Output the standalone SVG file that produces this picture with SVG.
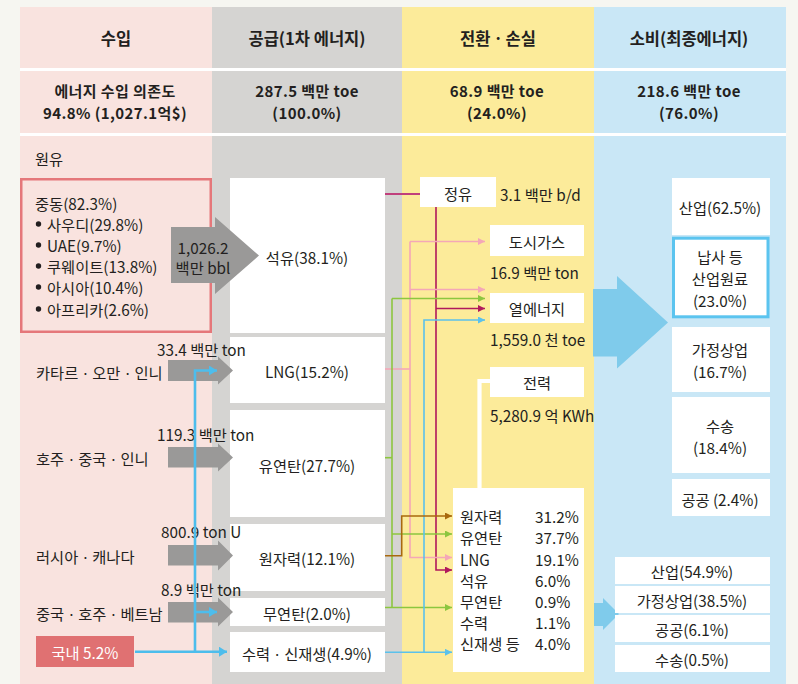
<svg xmlns="http://www.w3.org/2000/svg" width="798" height="684" viewBox="0 0 798 684">
<defs>
<style>
text { font-family: "Noto Sans CJK KR", "Noto Sans", sans-serif; font-size: 15.3px; fill: #231f20; dominant-baseline: central; }
.h { font-size: 16.5px; font-weight: bold; text-anchor: middle; }
.s { font-size: 15px; font-weight: bold; text-anchor: middle; letter-spacing: 0.4px; }
.m { text-anchor: middle; }
.box { fill: #ffffff; }
.ga { fill: #9a9998; }
.ln { fill: none; stroke-width: 1.6; }
.pk { stroke: #f4a7b7; }
.mg { stroke: #b01a5c; }
.gr { stroke: #8cc63f; }
.bl { stroke: #5bc1eb; }
.br { stroke: #a8690f; }
.ib { fill: none; stroke: #4dbdec; stroke-width: 2.6; }
</style>
<marker id="aPk" viewBox="0 0 8 8" refX="8" refY="4" markerWidth="7" markerHeight="7" markerUnits="userSpaceOnUse" orient="auto"><path d="M0,0 L8,4 L0,8 z" fill="#f4a7b7"/></marker>
<marker id="aMg" viewBox="0 0 8 8" refX="8" refY="4" markerWidth="7" markerHeight="7" markerUnits="userSpaceOnUse" orient="auto"><path d="M0,0 L8,4 L0,8 z" fill="#b01a5c"/></marker>
<marker id="aGr" viewBox="0 0 8 8" refX="8" refY="4" markerWidth="7" markerHeight="7" markerUnits="userSpaceOnUse" orient="auto"><path d="M0,0 L8,4 L0,8 z" fill="#8cc63f"/></marker>
<marker id="aBl" viewBox="0 0 8 8" refX="8" refY="4" markerWidth="7" markerHeight="7" markerUnits="userSpaceOnUse" orient="auto"><path d="M0,0 L8,4 L0,8 z" fill="#5bc1eb"/></marker>
<marker id="aBr" viewBox="0 0 8 8" refX="8" refY="4" markerWidth="7" markerHeight="7" markerUnits="userSpaceOnUse" orient="auto"><path d="M0,0 L8,4 L0,8 z" fill="#a8690f"/></marker>
<marker id="aIb" viewBox="0 0 8 10" refX="8" refY="5" markerWidth="8" markerHeight="10" markerUnits="userSpaceOnUse" orient="auto"><path d="M0,0 L8,5 L0,10 z" fill="#4dbdec"/></marker>
</defs>

<g id="background">
<rect x="0" y="0" width="798" height="684" fill="#f6f6f1"/>
<rect x="20" y="7" width="192" height="677" fill="#f9e3df"/>
<rect x="212" y="7" width="190" height="677" fill="#d5d4d2"/>
<rect x="402" y="7" width="192" height="677" fill="#fceb9a"/>
<rect x="594" y="7" width="192" height="677" fill="#c9e7f6"/>
<rect x="20" y="68" width="766" height="3" fill="#ffffff"/>
<rect x="20" y="133" width="766" height="3" fill="#ffffff"/>
</g>

<g id="headers">
<text class="h" x="116" y="38">수입</text>
<text class="h" x="307" y="38">공급(1차 에너지)</text>
<text class="h" x="498" y="38">전환ㆍ손실</text>
<text class="h" x="689" y="38">소비(최종에너지)</text>
<text class="s" x="115" y="90.5">에너지 수입 의존도</text>
<text class="s" x="115" y="112.5">94.8% (1,027.1억$)</text>
<text class="s" x="307" y="90.5">287.5 백만 toe</text>
<text class="s" x="307" y="112.5">(100.0%)</text>
<text class="s" x="497" y="90.5">68.9 백만 toe</text>
<text class="s" x="497" y="112.5">(24.0%)</text>
<text class="s" x="689" y="90.5">218.6 백만 toe</text>
<text class="s" x="689" y="112.5">(76.0%)</text>
<text x="35" y="158">원유</text>
</g>

<g id="import-middle-east">
<rect x="21.25" y="179.25" width="189.5" height="152.5" fill="none" stroke="#e5777a" stroke-width="2.5"/>
<text x="35" y="203">중동(82.3%)</text>
<circle cx="38.5" cy="224" r="2.7" fill="#231f20"/>
<text x="47" y="224">사우디(29.8%)</text>
<circle cx="38.5" cy="245" r="2.7" fill="#231f20"/>
<text x="47" y="245">UAE(9.7%)</text>
<circle cx="38.5" cy="266" r="2.7" fill="#231f20"/>
<text x="47" y="266">쿠웨이트(13.8%)</text>
<circle cx="38.5" cy="287" r="2.7" fill="#231f20"/>
<text x="47" y="287">아시아(10.4%)</text>
<circle cx="38.5" cy="309" r="2.7" fill="#231f20"/>
<text x="47" y="309">아프리카(2.6%)</text>
</g>
<g id="import-lng"><text x="36" y="372">카타르ㆍ오만ㆍ인니</text></g>
<g id="import-coal"><text x="36" y="458">호주ㆍ중국ㆍ인니</text></g>
<g id="import-nuclear"><text x="36" y="556">러시아ㆍ캐나다</text></g>
<g id="import-anthracite"><text x="36" y="613">중국ㆍ호주ㆍ베트남</text></g>
<g id="import-domestic">
<rect x="36" y="636" width="98" height="31" fill="#e07172"/>
<text class="m" x="85" y="651.5" style="fill:#ffffff">국내 5.2%</text>
</g>

<g id="supply-oil"><rect class="box" x="230" y="178" width="155" height="155"/><text class="m" x="307" y="257">석유(38.1%)</text></g>
<g id="supply-lng"><rect class="box" x="230" y="337" width="155" height="66"/><text class="m" x="307" y="371">LNG(15.2%)</text></g>
<g id="supply-coal"><rect class="box" x="230" y="410" width="155" height="107"/><text class="m" x="307" y="465">유연탄(27.7%)</text></g>
<g id="supply-nuclear"><rect class="box" x="230" y="524" width="155" height="67"/><text class="m" x="307" y="558">원자력(12.1%)</text></g>
<g id="supply-anthracite"><rect class="box" x="230" y="598" width="155" height="28"/><text class="m" x="307" y="613">무연탄(2.0%)</text></g>
<g id="supply-renewable"><rect class="box" x="230" y="632" width="155" height="40"/><text class="m" x="307" y="653">수력ㆍ신재생(4.9%)</text></g>

<g id="flows">
<polygon class="ga" points="171,227 215,227 215,217 259,255.5 215,294 215,283 171,283"/>
<text class="m" x="203" y="247">1,026.2</text>
<text class="m" x="203" y="267">백만 bbl</text>
<polygon class="ga" points="168,360 218,360 218,356.5 233,370.5 218,384.5 218,381 168,381"/>
<text x="157" y="349">33.4 백만 ton</text>
<polygon class="ga" points="168,447 218,447 218,443.5 233,457.5 218,471.5 218,467.5 168,467.5"/>
<text x="157" y="434">119.3 백만 ton</text>
<polygon class="ga" points="168,545 218,545 218,540.5 233,555.5 218,570.5 218,565.5 168,565.5"/>
<text x="161" y="531">800.9 ton U</text>
<polygon class="ga" points="168,602 218,602 218,597.5 233,612 218,626.5 218,622.5 168,622.5"/>
<text x="161" y="589">8.9 백만 ton</text>
<polygon fill="#7fcbeb" points="593,289 617,289 617,276 668,322.5 617,368.5 617,356.5 593,356.5"/>
<polygon fill="#7fcbeb" points="594,603 603,603 603,598 619,614 603,630 603,626 594,626"/>
</g>

<g id="connectors">
<path class="ib" d="M135,651.7 H227" marker-end="url(#aIb)"/>
<path class="ib" d="M195,651.7 V370.5 H217" marker-end="url(#aIb)"/>
<path class="ib" d="M195,612 H217" marker-end="url(#aIb)"/>
<path d="M385,194 H420" fill="none" stroke="#c0407c" stroke-width="2.2"/>
<path class="ln mg" d="M436,207 V570 H452" marker-end="url(#aMg)"/>
<path class="ln mg" d="M436,308.5 H485" marker-end="url(#aMg)"/>
<path class="ln pk" d="M385,369 H410"/>
<path class="ln pk" d="M410,241.5 V557.5 H452" marker-end="url(#aPk)"/>
<path class="ln pk" d="M410,241.5 H485" marker-end="url(#aPk)"/>
<path class="ln pk" d="M410,289.5 H485" marker-end="url(#aPk)"/>
<path class="ln gr" d="M385,457.7 H392"/>
<path class="ln gr" d="M392,298.5 V607.5"/>
<path class="ln gr" d="M392,298.5 H485" marker-end="url(#aGr)"/>
<path class="ln gr" d="M392,534 H452" marker-end="url(#aGr)"/>
<path class="ln gr" d="M385,607.5 H452" marker-end="url(#aGr)"/>
<path class="ln bl" d="M385,652.3 H452" marker-end="url(#aBl)"/>
<path class="ln bl" d="M424,652.3 V320 H485" marker-end="url(#aBl)"/>
<path class="ln br" d="M385,555.7 H401.7 V516 H452" marker-end="url(#aBr)"/>
<path d="M490,381 H479.5 V488" fill="none" stroke="#ffffff" stroke-width="4.2"/>
</g>

<g id="conv-refinery"><rect class="box" x="420" y="177" width="76" height="30"/><text class="m" x="458" y="192.5">정유</text><text x="500" y="194">3.1 백만 b/d</text></g>
<g id="conv-citygas"><rect class="box" x="490" y="225" width="94" height="31"/><text class="m" x="537" y="240.5">도시가스</text><text x="490" y="272">16.9 백만 ton</text></g>
<g id="conv-heat"><rect class="box" x="490" y="293" width="94" height="30"/><text class="m" x="537" y="308">열에너지</text><text x="490" y="339">1,559.0 천 toe</text></g>
<g id="conv-power"><rect class="box" x="490" y="367" width="94" height="30"/><text class="m" x="537" y="382">전력</text><text x="490" y="415">5,280.9 억 KWh</text></g>
<g id="conv-power-mix">
<rect class="box" x="453" y="488" width="131" height="184"/>
<text x="460" y="516">원자력</text><text x="535" y="516">31.2%</text>
<text x="460" y="537">유연탄</text><text x="535" y="537">37.7%</text>
<text x="460" y="559">LNG</text><text x="535" y="559">19.1%</text>
<text x="460" y="580">석유</text><text x="535" y="580">6.0%</text>
<text x="460" y="601">무연탄</text><text x="535" y="601">0.9%</text>
<text x="460" y="622">수력</text><text x="535" y="622">1.1%</text>
<text x="460" y="643">신재생 등</text><text x="535" y="643">4.0%</text>
</g>

<g id="use-industry"><rect class="box" x="672" y="178" width="98" height="57"/><text class="m" x="720" y="207">산업(62.5%)</text></g>
<g id="use-naphtha"><rect class="box" x="673.5" y="238.2" width="94.5" height="78.6" stroke="#5bc4ef" stroke-width="3"/><text class="m" x="720" y="256">납사 등</text><text class="m" x="720" y="278">산업원료</text><text class="m" x="720" y="299.5">(23.0%)</text></g>
<g id="use-residential"><rect class="box" x="672" y="327" width="98" height="65"/><text class="m" x="720" y="349">가정상업</text><text class="m" x="720" y="371">(16.7%)</text></g>
<g id="use-transport"><rect class="box" x="672" y="397" width="98" height="76"/><text class="m" x="720" y="425">수송</text><text class="m" x="720" y="447">(18.4%)</text></g>
<g id="use-public"><rect class="box" x="672" y="479" width="98" height="37"/><text class="m" x="720" y="498.5">공공 (2.4%)</text></g>

<g id="power-industry"><rect class="box" x="615" y="557" width="155" height="27"/><text class="m" x="692" y="570.5">산업(54.9%)</text></g>
<g id="power-residential"><rect class="box" x="615" y="586" width="155" height="27"/><text class="m" x="692" y="599.5">가정상업(38.5%)</text></g>
<g id="power-public"><rect class="box" x="615" y="615" width="155" height="27"/><text class="m" x="692" y="628.5">공공(6.1%)</text></g>
<g id="power-transport"><rect class="box" x="615" y="645" width="155" height="27"/><text class="m" x="692" y="658.5">수송(0.5%)</text></g>
</svg>
